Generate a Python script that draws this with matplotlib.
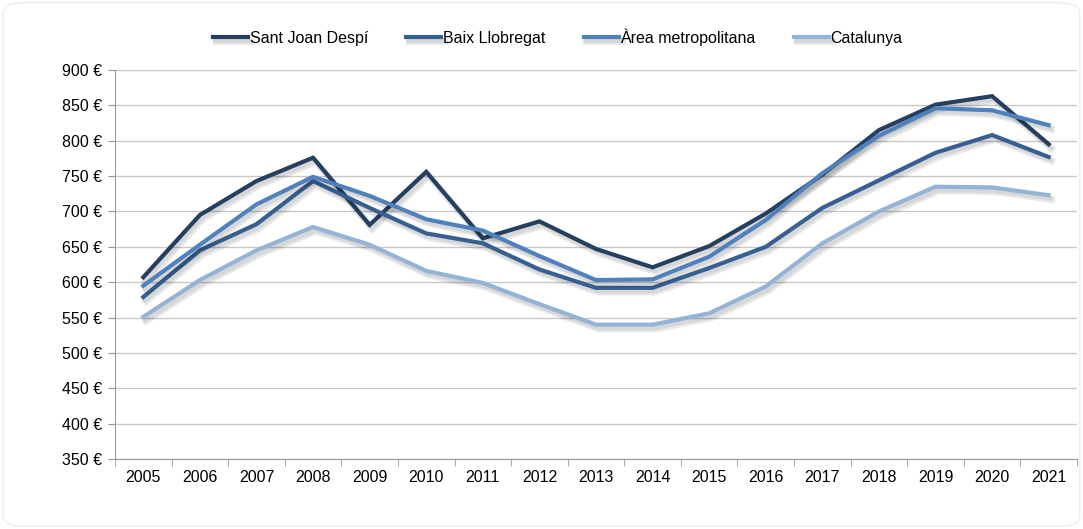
import numpy as np
import matplotlib
matplotlib.use('Agg')
import matplotlib.pyplot as plt
import matplotlib.patheffects as pe
from matplotlib.patches import FancyBboxPatch

plt.rcParams['font.family'] = ['Liberation Sans', 'DejaVu Sans']

years = ['2005', '2006', '2007', '2008', '2009', '2010', '2011', '2012', '2013',
         '2014', '2015', '2016', '2017', '2018', '2019', '2020', '2021']

sant_joan = [607, 695, 743, 776, 681, 756, 662, 686, 647, 621, 651, 697, 752, 815, 851, 863, 795]
baix_llob = [579, 645, 682, 743, 705, 669, 655, 618, 592, 592, 620, 650, 705, 744, 783, 808, 777]
area_metro = [595, 653, 710, 749, 722, 689, 673, 637, 603, 604, 636, 688, 754, 807, 846, 843, 822]
catalunya = [551, 603, 645, 678, 653, 616, 599, 569, 540, 540, 556, 594, 655, 700, 735, 734, 723]

series = [('Sant Joan Despí', sant_joan, '#243F60'),
          ('Baix Llobregat', baix_llob, '#366092'),
          ('Àrea metropolitana', area_metro, '#4F81BD'),
          ('Catalunya', catalunya, '#95B3D7')]

fig = plt.figure(figsize=(10.83, 5.29), dpi=100)
ax = fig.add_axes([115/1083, 1-459/529, (1077-115)/1083, (459-70)/529])

x = np.arange(len(years))
# soft drop shadow like the spreadsheet original
shadow = [pe.SimpleLineShadow(offset=(2, -3), shadow_color='k', alpha=0.09, linewidth=5),
          pe.SimpleLineShadow(offset=(1.5, -2.5), shadow_color='k', alpha=0.07),
          pe.Normal()]
for name, vals, col in series:
    ax.plot(x, vals, color=col, lw=3, label=name, path_effects=shadow, solid_joinstyle='miter')

ax.set_ylim(350, 900)
ax.set_yticks(np.arange(350, 901, 50))
ax.set_yticklabels(['%d €' % v for v in range(350, 901, 50)])
ax.set_xlim(-0.5, len(years) - 0.5)
ax.set_xticks(x)
ax.set_xticklabels(years)
ax.set_xticks(np.arange(-0.5, len(years), 1), minor=True)
ax.tick_params(axis='x', which='major', length=0, pad=8, labelsize=11.5)
ax.tick_params(axis='x', which='minor', length=5, color='#999999', direction='out')
ax.tick_params(axis='y', length=5, color='#999999', labelsize=11.5, pad=4)

ax.grid(axis='y', color='#c8c8c8', lw=1)
ax.set_axisbelow(True)
for s in ['top', 'right']:
    ax.spines[s].set_visible(False)
ax.spines['left'].set_color('#999999')
ax.spines['bottom'].set_color('#999999')

fig.legend(loc='center', bbox_to_anchor=(0.515, 1-37/529), ncol=4, frameon=False,
           fontsize=11.5, handlelength=2.2, columnspacing=2.4, handletextpad=0.1)

fig.patches.append(FancyBboxPatch((0.003, 0.005), 0.994, 0.99, boxstyle='round,pad=0,rounding_size=0.02',
                                  transform=fig.transFigure, fill=False, ec='#efefef', lw=1))

fig.savefig('out.png', dpi=100)
